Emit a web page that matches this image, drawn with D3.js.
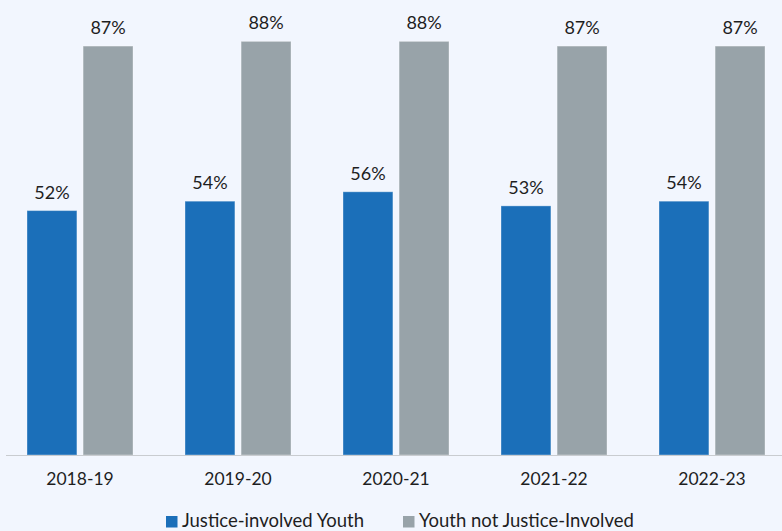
<!DOCTYPE html>
<html>
<head>
<meta charset="utf-8">
<script src="https://cdn.jsdelivr.net/npm/d3@7"></script>
<style>
  html, body { margin: 0; padding: 0; background: #f2f6fe; }
  svg { display: block; font-family: Lato, "Open Sans", sans-serif; }
</style>
</head>
<body>
<svg id="chart" width="782" height="531"></svg>
<script>
// School years on the x axis
const years = ["2018-19", "2019-20", "2020-21", "2021-22", "2022-23"];
// Percent values for each group
const justiceInvolved = [52, 54, 56, 53, 54];
const notJusticeInvolved = [87, 88, 88, 87, 87];
const seriesNames = ["Justice-involved Youth", "Youth not Justice-Involved"];
const seriesColors = ["#1b6fb9", "#98a3a9"];

const svg = d3.select("#chart");
const W = 782, H = 531;
const baseY = 455;

svg.append("rect").attr("width", W).attr("height", H).attr("fill", "#f2f6fe");

const x = d3.scaleBand().domain(years).range([1, 791]).paddingInner(0).paddingOuter(0);
const inner = d3.scaleBand().domain([0, 1]).range([x.bandwidth() / 2 - 53, x.bandwidth() / 2 + 53]).paddingInner(0.11);
const y = d3.scaleLinear().domain([0, 96.8]).range([baseY, 0]);

const rows = years.map((yr, i) => ({ yr, vals: [justiceInvolved[i], notJusticeInvolved[i]] }));

const groups = svg.selectAll("g.grp").data(rows).enter().append("g")
  .attr("class", "grp")
  .attr("transform", d => `translate(${x(d.yr)},0)`);

groups.selectAll("rect").data(d => d.vals.map((v, k) => ({ v, k }))).enter().append("rect")
  .attr("x", d => inner(d.k))
  .attr("width", inner.bandwidth())
  .attr("y", d => y(d.v))
  .attr("height", d => baseY - y(d.v))
  .attr("fill", d => seriesColors[d.k])
  .attr("stroke", "#ffffff")
  .attr("stroke-opacity", 0.35)
  .attr("stroke-width", 1);

groups.selectAll("text.val").data(d => d.vals.map((v, k) => ({ v, k }))).enter().append("text")
  .attr("class", "val")
  .attr("x", d => inner(d.k) + inner.bandwidth() / 2)
  .attr("y", d => y(d.v) - 12)
  .attr("text-anchor", "middle")
  .attr("font-size", 18)
  .attr("fill", "#1e1e1e")
  .text(d => d.v + "%");

// Baseline axis with category labels
const axis = svg.append("g").attr("transform", `translate(0,${baseY})`)
  .call(d3.axisBottom(x).tickSize(0).tickPadding(18));
axis.select(".domain").attr("stroke", "#c9ccd0").attr("stroke-width", 1.2)
  .attr("d", `M6,0.5H782`);
axis.selectAll("text").attr("font-size", 17.5).attr("fill", "#1e1e1e")
  .attr("font-family", "Lato, 'Open Sans', sans-serif");

// Legend
const legendX = [166, 403];
const leg = svg.append("g");
seriesNames.forEach((name, k) => {
  leg.append("rect").attr("x", legendX[k]).attr("y", 516).attr("width", 11.5).attr("height", 11.5)
    .attr("fill", seriesColors[k]);
  leg.append("text").attr("x", legendX[k] + 16).attr("y", 527)
    .attr("font-size", 18.5).attr("fill", "#1e1e1e").text(name);
});
</script>
</body>
</html>
